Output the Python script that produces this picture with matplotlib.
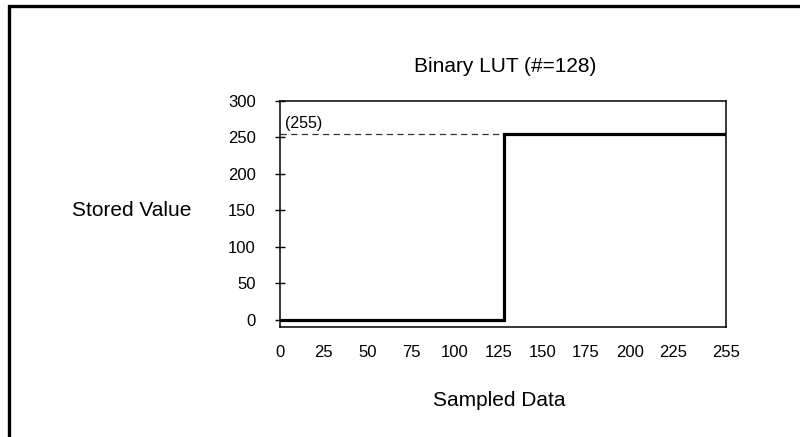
import matplotlib
matplotlib.use("Agg")
import matplotlib.pyplot as plt
from matplotlib.patches import Rectangle

plt.rcParams['font.family'] = ['Liberation Sans', 'DejaVu Sans']

# Data
x_points = [0, 128, 128, 255]
y_points = [0, 0, 255, 255]
ref_level = 255
ref_label = "(255)"
x_ticks = [0, 25, 50, 75, 100, 125, 150, 175, 200, 225, 255]
y_ticks = [0, 50, 100, 150, 200, 250, 300]
title = "Binary LUT (#=128)"
xlabel = "Sampled Data"
ylabel = "Stored Value"

fig = plt.figure(figsize=(8.0, 4.37), dpi=100)
ax = fig.add_axes([0.35, 0.2517, 0.5575, 0.5172])

ax.plot([x_points[0], x_points[-1]], [ref_level, ref_level], ls=(0, (5, 3.5)), lw=0.9, color='#333333')
ax.plot(x_points, y_points, color='black', lw=2.3, solid_joinstyle='miter')
ax.text(3, ref_level + 3.5, ref_label, fontsize=11.5, ha='left', va='bottom')

ax.set_xlim(0, 255)
ax.set_ylim(-10.3, 300)
ax.set_xticks(x_ticks)
ax.set_xticklabels([str(v) for v in x_ticks], fontsize=12)
ax.set_yticks(y_ticks)
ax.set_yticklabels([str(v) for v in y_ticks], fontsize=12)
ax.tick_params(axis='x', length=0, pad=13)
ax.tick_params(axis='y', direction='inout', length=7, width=1, pad=14)
for s in ax.spines.values():
    s.set_linewidth(1.1)

fig.text(505/800, 1 - 66/437, title, ha='center', va='center', fontsize=15)
fig.text(499/800, 1 - 400/437, xlabel, ha='center', va='center', fontsize=15)
fig.text(132/800, 1 - 210/437, ylabel, ha='center', va='center', fontsize=15)

fig.patches.append(Rectangle((9/800, -0.05), 1.2, 1 - 5.5/437 + 0.05, transform=fig.transFigure,
                             fill=False, edgecolor='black', lw=2.4, zorder=10))

fig.savefig("out.png", dpi=100)
